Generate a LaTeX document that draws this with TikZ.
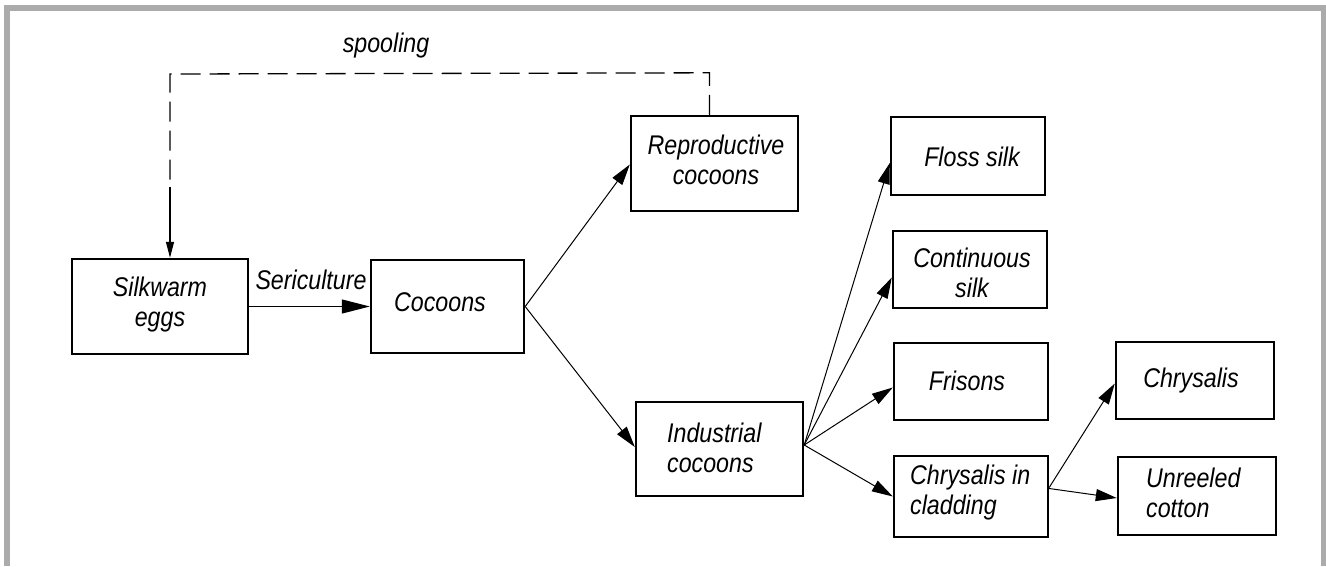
\documentclass[tikz,border=0pt]{standalone}
\usepackage{fontspec}
\setmainfont{Liberation Sans}[FakeStretch=0.86]
\usetikzlibrary{arrows.meta,calc}
\definecolor{framegray}{HTML}{ABABAB}
\begin{document}
\begin{tikzpicture}[x=1pt,y=-1pt,
  box/.style={draw=black,line width=2.4pt,rectangle,inner sep=0pt},
  txt/.style={font=\fontsize{27}{30}\selectfont\itshape,inner sep=0pt,align=center},
  ltxt/.style={font=\fontsize{27}{30}\selectfont\itshape,inner sep=0pt,align=left,anchor=west},
  conn/.style={line width=1pt,-{Triangle[length=21pt,width=12pt]}},
  bigconn/.style={line width=1.2pt,-{Triangle[length=28pt,width=14pt]}},
  fb/.style={line width=1.3pt}
]
\useasboundingbox (0,0) rectangle (1326,566);
\fill[white] (0,0) rectangle (1326,566);
% frame
\fill[framegray] (4,5) rectangle (1326,11);
\fill[framegray] (4,5) rectangle (10,566);
\fill[framegray] (1321,5) rectangle (1326,566);

% boxes
\node[box,minimum width=176pt,minimum height=95pt] (eggs) at (160,306.5) {};
\node[box,minimum width=153pt,minimum height=93pt] (coc) at (447.5,306.5) {};
\node[box,minimum width=167pt,minimum height=95pt] (repro) at (714.5,163.5) {};
\node[box,minimum width=167pt,minimum height=94pt] (indus) at (719.5,449) {};
\node[box,minimum width=154pt,minimum height=78pt] (floss) at (968,156) {};
\node[box,minimum width=154pt,minimum height=77pt] (cont) at (970,269.5) {};
\node[box,minimum width=154pt,minimum height=77pt] (fris) at (971,381.5) {};
\node[box,minimum width=154pt,minimum height=81pt] (clad) at (971,496.5) {};
\node[box,minimum width=158pt,minimum height=77pt] (chrys) at (1195,380.5) {};
\node[box,minimum width=158pt,minimum height=78pt] (unreel) at (1197,496) {};

% texts
\node[txt] (eggsT) at (160,305) {Silkwarm\\eggs};
\node[txt] (cocT) at (440,302) {Cocoons};
\node[txt] (reproT) at (716,160) {Reproductive\\cocoons};
\node[ltxt] (indusT) at (667,448) {Industrial\\cocoons};
\node[txt] (flossT) at (972,157) {Floss silk};
\node[txt] (contT) at (972,273) {Continuous\\silk};
\node[txt] (frisT) at (967,381) {Frisons};
\node[ltxt] (cladT) at (910,493) {Chrysalis in\\cladding};
\node[txt] (chrysT) at (1191,381) {Chrysalis};
\node[ltxt] (unreelT) at (1146,493) {Unreeled\\cotton};
\node[txt] (seri) at (311,280) {Sericulture};
\node[txt] (spool) at (386,46) {spooling};

% connectors
\draw[bigconn] (eggs.east) -- (coc.west);
\draw[conn] (coc.east) -- ($(repro.west)+(0,1)$);
\draw[conn] (coc.east) -- ($(indus.west)+(0,-2)$);
\coordinate (ind0) at ($(indus.east)+(0,-4)$);
\draw[conn] (ind0) -- ($(floss.west)+(0,7)$);
\draw[conn] (ind0) -- ($(cont.west)+(0,8)$);
\draw[conn] (ind0) -- ($(fris.west)+(0,6)$);
\draw[conn] (ind0) -- (clad.west);
\coordinate (clad0) at ($(clad.east)+(0,-9)$);
\draw[conn] (clad0) -- ($(chrys.west)+(0,3)$);
\draw[conn] ($(clad.east)+(0,-8)$) -- ($(unreel.west)+(0,2)$);

% spooling feedback
\coordinate (fbA) at ($(repro.north)+(-5,0)$);
\coordinate (fbB) at ($(repro.north)+(-5,-42)$);
\coordinate (fbC) at (170,74);
\coordinate (fbD) at (170,187);
\draw[fb,dash pattern=on 20pt off 9pt] (fbA) -- (fbB) -- (fbC) -- (fbD);
\draw[fb,-{Triangle[length=16pt,width=8pt]}] (fbD) -- (eggs.north -| fbD);
\end{tikzpicture}
\end{document}
